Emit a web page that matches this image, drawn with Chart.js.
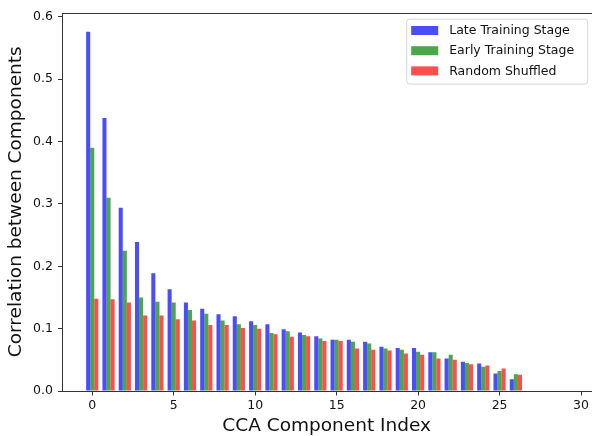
<!DOCTYPE html>
<html>
<head>
<meta charset="utf-8">
<script src="https://cdn.jsdelivr.net/npm/chart.js@4.4.0/dist/chart.umd.min.js"></script>
<style>
  html, body { margin: 0; padding: 0; background: #fff; overflow: hidden; width: 592px; height: 436px; }
  #wrap { position: relative; width: 592px; height: 436px; }
</style>
</head>
<body>
<div id="wrap"><canvas id="c" width="592" height="436"></canvas></div>
<script>
// CCA component correlations for three training conditions
const componentIndex = [0, 1, 2, 3, 4, 5, 6, 7, 8, 9, 10, 11, 12, 13, 14, 15, 16, 17, 18, 19, 20, 21, 22, 23, 24, 25, 26];
const lateStage = [0.576, 0.438, 0.294, 0.239, 0.189, 0.163, 0.142, 0.132, 0.123, 0.120, 0.112, 0.107, 0.099, 0.094, 0.088, 0.082, 0.082, 0.079, 0.071, 0.069, 0.069, 0.062, 0.052, 0.047, 0.044, 0.028, 0.019];
const earlyStage = [0.390, 0.310, 0.225, 0.150, 0.143, 0.142, 0.130, 0.124, 0.113, 0.107, 0.106, 0.093, 0.096, 0.090, 0.084, 0.082, 0.079, 0.076, 0.068, 0.066, 0.063, 0.062, 0.058, 0.045, 0.039, 0.032, 0.027];
const randomShuffled = [0.148, 0.147, 0.142, 0.121, 0.121, 0.115, 0.113, 0.106, 0.106, 0.101, 0.100, 0.091, 0.087, 0.088, 0.080, 0.080, 0.068, 0.066, 0.065, 0.060, 0.058, 0.052, 0.050, 0.043, 0.041, 0.036, 0.026];
const seriesNames = ['Late Training Stage', 'Early Training Stage', 'Random Shuffled'];
const xTickValues = [0, 5, 10, 15, 20, 25, 30];
const yTickValues = [0, 0.1, 0.2, 0.3, 0.4, 0.5, 0.6];

const FONT = 'DejaVu Sans';
const SPINE = '#333';
const colors = ['rgba(0,0,255,0.7)', 'rgba(0,128,0,0.7)', 'rgba(255,0,0,0.7)'];
const toPoints = vals => vals.map((v, i) => ({ x: componentIndex[i], y: v }));

// open right side, left/bottom/top spines and an in-axes legend
const framePlugin = {
  id: 'frame',
  afterDraw(chart) {
    const { ctx, chartArea: a } = chart;
    const l = Math.floor(a.left), t = Math.round(a.top), b = Math.floor(a.bottom);
    ctx.save();
    // the axes continue past the canvas edge, so the right edge stays open
    ctx.fillStyle = '#fff';
    ctx.fillRect(a.right - 3.5, t, chart.width - a.right + 3.5, b - t);

    ctx.fillStyle = SPINE;
    ctx.fillRect(l, t, chart.width - l, 1);
    ctx.fillRect(l, t, 1, b - t + 1);
    ctx.fillRect(l, b, chart.width - l, 1);

    // legend box
    const bx = 406.7, by = a.top + 6.6, bw = 181, bh = 65, r = 3;
    ctx.beginPath();
    ctx.moveTo(bx + r, by);
    ctx.arcTo(bx + bw, by, bx + bw, by + bh, r);
    ctx.arcTo(bx + bw, by + bh, bx, by + bh, r);
    ctx.arcTo(bx, by + bh, bx, by, r);
    ctx.arcTo(bx, by, bx + bw, by, r);
    ctx.closePath();
    ctx.fillStyle = 'rgba(255,255,255,0.8)';
    ctx.fill();
    ctx.lineWidth = 1;
    ctx.strokeStyle = 'rgba(204,204,204,0.8)';
    ctx.stroke();

    ctx.font = '12.5px "' + FONT + '"';
    ctx.textBaseline = 'middle';
    ctx.textAlign = 'left';
    chart.data.datasets.forEach((ds, i) => {
      const cy = by + 11.4 + i * 20.2;
      ctx.fillStyle = ds.backgroundColor;
      ctx.fillRect(bx + 4.5, cy - 4.5, 27, 9);
      ctx.fillStyle = '#111';
      ctx.fillText(ds.label, bx + 42.5, cy + 0.5);
    });
    ctx.restore();
  }
};

new Chart(document.getElementById('c'), {
  type: 'bar',
  data: {
    datasets: [
      { label: seriesNames[0], data: toPoints(lateStage), backgroundColor: colors[0] },
      { label: seriesNames[1], data: toPoints(earlyStage), backgroundColor: colors[1] },
      { label: seriesNames[2], data: toPoints(randomShuffled), backgroundColor: colors[2] }
    ]
  },
  options: {
    responsive: false,
    animation: false,
    devicePixelRatio: 1,
    layout: { padding: { top: 6.7, right: 0, left: 0, bottom: 0 } },
    datasets: { bar: { categoryPercentage: 0.75, barPercentage: 1.0, borderWidth: 0 } },
    plugins: { legend: { display: false }, tooltip: { enabled: false } },
    scales: {
      x: {
        type: 'linear',
        min: -1.825,
        max: 30.6,
        offset: false,
        afterFit(s) { s.height = 45; },
        afterBuildTicks(s) { s.ticks = xTickValues.map(v => ({ value: v })); },
        ticks: { font: { family: FONT, size: 12.5 }, color: '#111', padding: 3, maxRotation: 0, autoSkip: false },
        grid: { display: true, offset: false, drawOnChartArea: false, drawTicks: true, tickLength: 4.5, color: SPINE, lineWidth: 1 },
        border: { display: false },
        title: { display: true, text: 'CCA Component Index', color: '#111',
                 font: { family: FONT, size: 18.5, lineHeight: 1 }, padding: { top: 0, bottom: 0.5 } }
      },
      y: {
        type: 'linear',
        min: 0,
        max: 0.607,
        afterFit(s) { s.width = 62.5; },
        afterBuildTicks(s) { s.ticks = yTickValues.map(v => ({ value: v })); },
        ticks: { font: { family: FONT, size: 12.5 }, color: '#111', padding: 5, callback: v => v.toFixed(1) },
        grid: { display: true, drawOnChartArea: false, drawTicks: true, tickLength: 4.5, color: SPINE, lineWidth: 1 },
        border: { display: false },
        title: { display: true, text: 'Correlation between Components', color: '#111',
                 font: { family: FONT, size: 18.5, lineHeight: 1 }, padding: { top: 6.5, bottom: 0 } }
      }
    }
  },
  plugins: [framePlugin]
});
</script>
</body>
</html>
